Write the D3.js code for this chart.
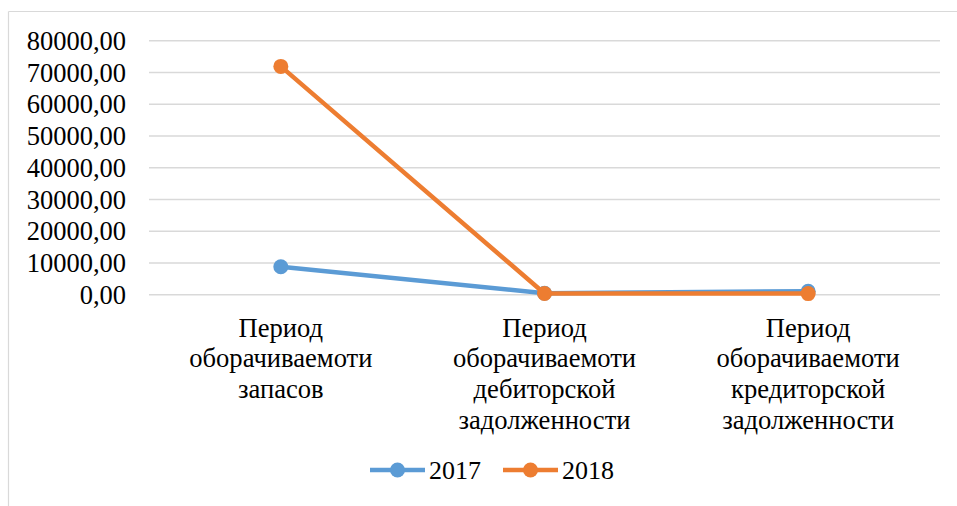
<!DOCTYPE html>
<html>
<head>
<meta charset="utf-8">
<script src="https://cdn.jsdelivr.net/npm/d3@7"></script>
<style>
  html, body { margin: 0; padding: 0; background: #fff; }
  svg { display: block; }
  text { font-family: "Liberation Serif", "Times New Roman", "DejaVu Serif", serif; fill: #000; }
</style>
</head>
<body>
<svg id="chart" width="957" height="506"></svg>
<script>
// Categories (each label split into its display lines)
const categories = [
  ["Период", "оборачиваемоти", "запасов"],
  ["Период", "оборачиваемоти", "дебиторской", "задолженности"],
  ["Период", "оборачиваемоти", "кредиторской", "задолженности"]
];
const seriesNames = ["2017", "2018"];
const values2017 = [8800, 450, 1100];
const values2018 = [71900, 380, 350];
const yTicks = [0, 10000, 20000, 30000, 40000, 50000, 60000, 70000, 80000];
const colors = ["#5B9BD5", "#ED7D31"];

const FONT = '"Liberation Serif", "Times New Roman", "DejaVu Serif", serif';
const svg = d3.select("#chart");
const W = 957, H = 506;

// outer chart frame (top and left edges visible)
svg.append("line").attr("x1", 8.5).attr("x2", W).attr("y1", 11.5).attr("y2", 11.5)
  .attr("stroke", "#d9d9d9").attr("stroke-width", 1.2);
svg.append("line").attr("x1", 8.5).attr("x2", 8.5).attr("y1", 11.5).attr("y2", H)
  .attr("stroke", "#d9d9d9").attr("stroke-width", 1.2);

const plot = { left: 149, right: 940, top: 40.7, bottom: 294.7 };

const x = d3.scaleBand()
  .domain(d3.range(categories.length))
  .range([plot.left, plot.right])
  .padding(0);
const y = d3.scaleLinear().domain([0, 80000]).range([plot.bottom, plot.top]);

const fmt = v => d3.format(".2f")(v).replace(".", ",");

// horizontal gridlines
svg.append("g")
  .selectAll("line")
  .data(yTicks)
  .join("line")
  .attr("x1", plot.left).attr("x2", plot.right)
  .attr("y1", d => y(d)).attr("y2", d => y(d))
  .attr("stroke", "#d9d9d9").attr("stroke-width", 1.5);

// y axis labels
const yAxis = d3.axisLeft(y).tickValues(yTicks).tickFormat(fmt).tickSize(0).tickPadding(0);
const yg = svg.append("g").attr("transform", `translate(${126},0)`).call(yAxis)
  .attr("font-family", FONT);
yg.select(".domain").remove();
yg.selectAll("text")
  .style("font-family", FONT)
  .style("font-size", "26.5px")
  .attr("dy", "0.33em")
  .attr("fill", "#000");

// category labels
const cx = i => x(i) + x.bandwidth() / 2;
const catG = svg.append("g");
categories.forEach((lines, i) => {
  const t = catG.append("text")
    .attr("x", cx(i)).attr("y", 336.7)
    .attr("text-anchor", "middle")
    .style("font-family", FONT)
    .style("font-size", "26.6px");
  lines.forEach((ln, j) => {
    t.append("tspan").attr("x", cx(i)).attr("y", 336.7 + j * 30.6).text(ln);
  });
});

// series lines with markers
const allSeries = [values2017, values2018];
const line = d3.line().x((d, i) => cx(i)).y(d => y(d));
allSeries.forEach((vals, s) => {
  const g = svg.append("g");
  g.append("path")
    .datum(vals)
    .attr("d", line)
    .attr("fill", "none")
    .attr("stroke", colors[s])
    .attr("stroke-width", 4.5)
    .attr("stroke-linejoin", "round");
  g.selectAll("circle")
    .data(vals)
    .join("circle")
    .attr("cx", (d, i) => cx(i))
    .attr("cy", d => y(d))
    .attr("r", 7.5)
    .attr("fill", colors[s]);
});

// legend
const legend = svg.append("g");
const legendItems = [
  { name: seriesNames[0], x0: 370 },
  { name: seriesNames[1], x0: 503 }
];
legendItems.forEach((it, s) => {
  legend.append("line")
    .attr("x1", it.x0).attr("x2", it.x0 + 55)
    .attr("y1", 470).attr("y2", 470)
    .attr("stroke", colors[s]).attr("stroke-width", 4.5);
  legend.append("circle")
    .attr("cx", it.x0 + 27.5).attr("cy", 470).attr("r", 7.5)
    .attr("fill", colors[s]);
  legend.append("text")
    .attr("x", it.x0 + 59).attr("y", 470)
    .attr("dy", "0.35em")
    .style("font-family", FONT)
    .style("font-size", "26px")
    .text(it.name);
});
</script>
</body>
</html>
